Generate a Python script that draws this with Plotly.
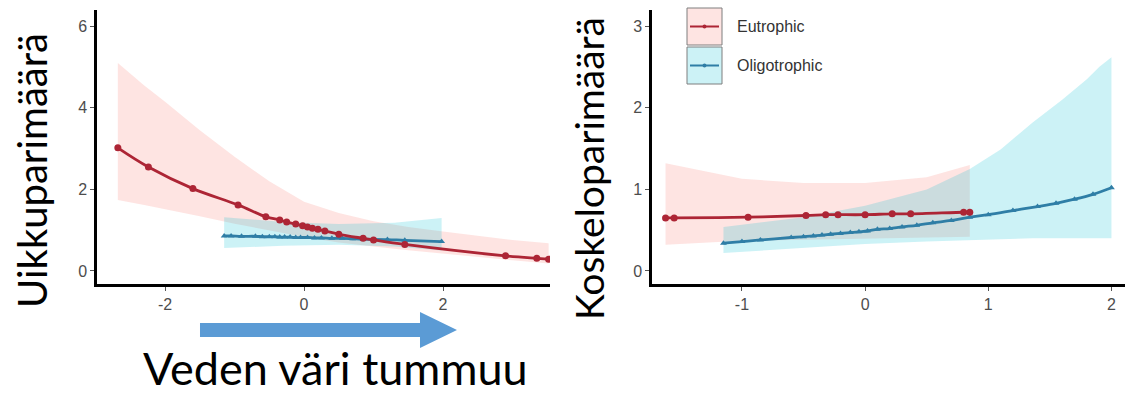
import plotly.graph_objects as go

# ---------------- data ----------------
# Left panel (Uikkuparimäärä)
eu_left_x = [-2.68, -2.24, -1.60, -0.95, -0.55, -0.35, -0.25, -0.12, -0.02, 0.05, 0.12, 0.20, 0.30, 0.50, 0.85, 1.00, 1.45, 2.90, 3.35, 3.52]
eu_left_y = [3.02, 2.55, 2.02, 1.62, 1.33, 1.25, 1.20, 1.15, 1.11, 1.08, 1.05, 1.02, 0.98, 0.90, 0.80, 0.76, 0.65, 0.37, 0.31, 0.29]
eu_left_band_x = [-2.68, -2.3, -2.0, -1.5, -1.0, -0.5, 0.0, 0.5, 1.0, 1.5, 2.0, 2.5, 3.0, 3.52]
eu_left_upper = [5.10, 4.55, 4.15, 3.45, 2.80, 2.20, 1.70, 1.42, 1.22, 1.08, 0.97, 0.86, 0.76, 0.68]
eu_left_lower = [1.74, 1.62, 1.52, 1.34, 1.16, 0.99, 0.83, 0.70, 0.60, 0.51, 0.42, 0.34, 0.26, 0.18]

ol_left_x = [-1.15, -1.05, -0.90, -0.70, -0.60, -0.50, -0.42, -0.35, -0.28, -0.20, -0.12, -0.05, 0.05, 0.15, 0.25, 0.40, 0.55, 0.70, 0.85, 1.20, 1.45, 1.98]
ol_left_y = [0.86, 0.86, 0.85, 0.85, 0.84, 0.84, 0.84, 0.83, 0.83, 0.83, 0.82, 0.82, 0.82, 0.81, 0.81, 0.80, 0.80, 0.79, 0.78, 0.77, 0.75, 0.72]
ol_left_band_x = [-1.15, -0.3, 0.5, 1.3, 1.98]
ol_left_upper = [1.32, 1.20, 1.15, 1.18, 1.30]
ol_left_lower = [0.56, 0.62, 0.64, 0.60, 0.50]

# Right panel (Koskeloparimäärä)
eu_right_x = [-1.62, -1.55, -0.95, -0.48, -0.32, -0.22, 0.00, 0.22, 0.37, 0.80, 0.85]
eu_right_y = [0.65, 0.65, 0.66, 0.68, 0.69, 0.69, 0.69, 0.70, 0.70, 0.72, 0.72]
eu_right_band_x = [-1.62, -1.0, -0.5, 0.0, 0.5, 0.85]
eu_right_upper = [1.32, 1.13, 1.08, 1.08, 1.15, 1.30]
eu_right_lower = [0.32, 0.37, 0.39, 0.40, 0.41, 0.42]

ol_right_x = [-1.15, -1.00, -0.85, -0.60, -0.50, -0.42, -0.35, -0.28, -0.20, -0.12, -0.05, 0.02, 0.10, 0.20, 0.30, 0.42, 0.55, 0.70, 0.85, 1.00, 1.20, 1.40, 1.55, 1.70, 1.85, 2.00]
ol_right_y = [0.34, 0.36, 0.38, 0.41, 0.42, 0.43, 0.44, 0.45, 0.46, 0.47, 0.48, 0.49, 0.51, 0.52, 0.54, 0.56, 0.59, 0.62, 0.66, 0.69, 0.74, 0.79, 0.83, 0.88, 0.94, 1.02]
ol_right_band_x = [-1.15, -0.5, 0.0, 0.5, 0.85, 1.1, 1.36, 1.6, 1.8, 1.9, 2.0]
ol_right_upper = [0.54, 0.66, 0.80, 1.00, 1.25, 1.49, 1.82, 2.10, 2.35, 2.50, 2.62]
ol_right_lower = [0.22, 0.28, 0.33, 0.36, 0.38, 0.39, 0.40, 0.40, 0.40, 0.40, 0.40]

left_xticks = [-2, 0, 2]
left_yticks = [0, 2, 4, 6]
right_xticks = [-1, 0, 1, 2]
right_yticks = [0, 1, 2, 3]

series_names = ["Eutrophic", "Oligotrophic"]
y_titles = ["Uikkuparimäärä", "Koskeloparimäärä"]
bottom_text = "Veden väri tummuu"

# ---------------- style ----------------
RED = "#ad2535"
BLUE = "#2f7ea6"
PINK_FILL = "rgba(248,118,109,0.20)"
CYAN_FILL = "rgba(0,191,210,0.20)"
W, H = 1128, 396


def band(x, up, lo, fill, xa, ya):
    return go.Scatter(x=list(x) + list(x)[::-1], y=list(up) + list(lo)[::-1],
                      fill="toself", fillcolor=fill, line=dict(width=0),
                      mode="lines", hoverinfo="skip", showlegend=False,
                      xaxis=xa, yaxis=ya)


def line(x, y, color, symbol, size, xa, ya, name):
    return go.Scatter(x=x, y=y, mode="lines+markers", name=name,
                      line=dict(color=color, width=2.8, shape="spline"),
                      marker=dict(color=color, symbol=symbol, size=size),
                      showlegend=False, xaxis=xa, yaxis=ya)


fig = go.Figure()
fig.add_trace(band(eu_left_band_x, eu_left_upper, eu_left_lower, PINK_FILL, "x", "y"))
fig.add_trace(band(ol_left_band_x, ol_left_upper, ol_left_lower, CYAN_FILL, "x", "y"))
fig.add_trace(line(ol_left_x, ol_left_y, BLUE, "triangle-up", 6, "x", "y", series_names[1]))
fig.add_trace(line(eu_left_x, eu_left_y, RED, "circle", 7, "x", "y", series_names[0]))

fig.add_trace(band(eu_right_band_x, eu_right_upper, eu_right_lower, PINK_FILL, "x2", "y2"))
fig.add_trace(band(ol_right_band_x, ol_right_upper, ol_right_lower, CYAN_FILL, "x2", "y2"))
fig.add_trace(line(ol_right_x, ol_right_y, BLUE, "triangle-up", 6, "x2", "y2", series_names[1]))
fig.add_trace(line(eu_right_x, eu_right_y, RED, "circle", 7, "x2", "y2", series_names[0]))

tick_family = "Liberation Sans Narrow, Arial Narrow, Liberation Sans, Arial"
tickfont = dict(family=tick_family, size=16, color="#4d4d4d")
axis_common = dict(showline=True, linecolor="black", linewidth=2.5, showgrid=False,
                   zeroline=False, ticks="outside", ticklen=4, tickwidth=1,
                   tickcolor="#555555", tickfont=tickfont, mirror=False, automargin=False)

y_bottom = (H - 284) / H
y_top = (H - 10) / H


def labels(vals):
    return [str(v) for v in vals]


fig.update_layout(
    width=W, height=H, margin=dict(l=0, r=0, t=0, b=0, autoexpand=False),
    paper_bgcolor="white", plot_bgcolor="white", showlegend=False,
    xaxis=dict(domain=[97 / W, 550 / W], range=[-2.98, 3.54], tickvals=left_xticks,
               ticktext=labels(left_xticks), anchor="y", **axis_common),
    yaxis=dict(domain=[y_bottom, y_top], range=[-0.32, 6.4], tickvals=left_yticks,
               ticktext=labels(left_yticks), anchor="x", **axis_common),
    xaxis2=dict(domain=[652 / W, 1125 / W], range=[-1.73, 2.11], tickvals=right_xticks,
                ticktext=labels(right_xticks), anchor="y2", **axis_common),
    yaxis2=dict(domain=[y_bottom, y_top], range=[-0.16, 3.2], tickvals=right_yticks,
                ticktext=labels(right_yticks), anchor="x2", **axis_common),
)

title_font = dict(family="Lato, Carlito, Open Sans, sans-serif", color="black")
fig.add_annotation(text=y_titles[0], x=32 / W, y=1 - 171 / H, xref="paper", yref="paper",
                   textangle=-90, showarrow=False, xanchor="center", yanchor="middle",
                   font=dict(size=40, **title_font))
fig.add_annotation(text=y_titles[1], x=589 / W, y=1 - 169 / H, xref="paper", yref="paper",
                   textangle=-90, showarrow=False, xanchor="center", yanchor="middle",
                   font=dict(size=39, **title_font))
fig.add_annotation(text=bottom_text, x=335 / W, y=1 - 368 / H, xref="paper", yref="paper",
                   showarrow=False, xanchor="center", yanchor="middle",
                   font=dict(size=45, **title_font))


# blue arrow (decoration)
def px(x, y):
    return f"{x / W:.5f},{1 - y / H:.5f}"


arrow_path = ("M " + px(200, 323) + " L " + px(420, 323) + " L " + px(420, 312) +
              " L " + px(457, 330) + " L " + px(420, 348) + " L " + px(420, 337) +
              " L " + px(200, 337) + " Z")
fig.add_shape(type="path", path=arrow_path, xref="paper", yref="paper",
              fillcolor="#5b9bd5", line=dict(width=0))

# legend (drawn manually to mimic ggplot keys)
leg_items = [(series_names[0], PINK_FILL, RED, 8, 45), (series_names[1], CYAN_FILL, BLUE, 47, 84)]
for name, fill, col, y0, y1 in leg_items:
    fig.add_shape(type="rect", xref="paper", yref="paper",
                  x0=687 / W, x1=722 / W, y0=1 - y1 / H, y1=1 - y0 / H,
                  fillcolor=fill, line=dict(color="#7f7f7f", width=1))
    ym = (y0 + y1) / 2
    fig.add_shape(type="line", xref="paper", yref="paper",
                  x0=690 / W, x1=719 / W, y0=1 - ym / H, y1=1 - ym / H,
                  line=dict(color=col, width=2))
    fig.add_shape(type="circle", xref="paper", yref="paper",
                  x0=702.5 / W, x1=706.5 / W, y0=1 - (ym + 2) / H, y1=1 - (ym - 2) / H,
                  fillcolor=col, line=dict(width=0))
    fig.add_annotation(text=name, x=735 / W, y=1 - ym / H, xref="paper", yref="paper",
                       showarrow=False, xanchor="left", yanchor="middle",
                       font=dict(family=tick_family, size=16, color="#333333"))

fig.write_html("out.html", config={"displayModeBar": False},
               post_script="document.body.style.margin='0px';document.body.style.overflow='hidden';")
